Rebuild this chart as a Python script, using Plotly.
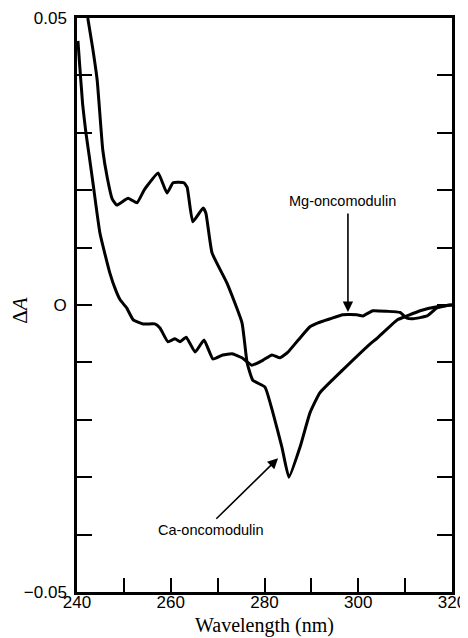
import plotly.graph_objects as go

# Mg-oncomodulin difference spectrum
mg_wl = [240.2, 240.6, 241.2, 241.9, 242.6, 243.4, 244.9, 247.0, 248.3, 249.2, 250.6, 252.0,
         254.1, 256.6, 257.7, 259.4, 260.9, 262.0, 263.3, 265.2, 267.1, 269.0, 271.1, 273.1,
         275.2, 277.3, 279.7, 281.6, 283.3, 285.0, 287.3, 289.7, 291.4, 294.0, 296.7, 299.7,
         301.0, 303.1, 306.1, 308.9, 310.4, 311.7, 314.7, 316.8, 319.6, 320.0]
mg_dA = [0.046, 0.0415, 0.035, 0.0300, 0.026, 0.0213, 0.0125, 0.0056, 0.0025, 0.0009, -0.0005, -0.0026,
         -0.0033, -0.0033, -0.0040, -0.0064, -0.0059, -0.0064, -0.0056, -0.0082, -0.0061, -0.0094, -0.0087, -0.0085,
         -0.0092, -0.0105, -0.0096, -0.0087, -0.0092, -0.0082, -0.0060, -0.0038, -0.0031, -0.0024, -0.0017, -0.0017,
         -0.0019, -0.0010, -0.0011, -0.0013, -0.0023, -0.0024, -0.0019, -0.0005, 0.0, 0.0]

# Ca-oncomodulin difference spectrum
ca_wl = [242.3, 243.3, 244.3, 245.5, 246.5, 247.5, 248.5, 250.9, 252.8, 254.3, 255.1, 257.3,
         259.2, 260.5, 262.8, 263.5, 264.7, 266.9, 267.5, 268.8, 272.0, 275.2, 276.3, 277.5,
         280.1, 281.8, 283.7, 285.2, 287.6, 289.7, 291.8, 296.7, 302.5, 304.0, 308.3, 310.4,
         313.2, 316.8, 320.0]
ca_dA = [0.050, 0.045, 0.0392, 0.0270, 0.022, 0.0185, 0.0174, 0.0186, 0.0178, 0.0200, 0.0209, 0.0230,
         0.0195, 0.0213, 0.0213, 0.0205, 0.0145, 0.0169, 0.0160, 0.0091, 0.0038, -0.0031, -0.0101, -0.0131,
         -0.0143, -0.0188, -0.0247, -0.0300, -0.0247, -0.0188, -0.0153, -0.0113, -0.0068, -0.0058, -0.0026, -0.0019,
         -0.0010, -0.0003, 0.0]

x_ticks = [240, 250, 260, 270, 280, 290, 300, 310, 320]
x_ticktext = ["240", "", "260", "", "280", "", "300", "", "320"]
y_ticks = [-0.05, -0.04, -0.03, -0.02, -0.01, 0.0, 0.01, 0.02, 0.03, 0.04, 0.05]
y_ticktext = ["\u22120.05", "", "", "", "", "O", "", "", "", "", "0.05"]

fig = go.Figure()
fig.add_trace(go.Scatter(x=mg_wl, y=mg_dA, mode="lines",
                         line=dict(color="black", width=3, shape="spline", smoothing=0.4),
                         showlegend=False))
fig.add_trace(go.Scatter(x=ca_wl, y=ca_dA, mode="lines",
                         line=dict(color="black", width=3, shape="spline", smoothing=0.4),
                         showlegend=False))

label_font = dict(family="Liberation Sans, Arial, sans-serif", size=14.5, color="black")

# labels and arrows
fig.add_annotation(x=297.8, y=-0.0012, ax=297.8, ay=0.0162, xref="x", yref="y",
                   axref="x", ayref="y", showarrow=True, arrowhead=2, arrowsize=1.3,
                   arrowwidth=1.6, arrowcolor="black", text="")
fig.add_annotation(x=296.7, y=0.0181, text="Mg-oncomodulin", showarrow=False,
                   font=label_font, xref="x", yref="y")
fig.add_annotation(x=282.9, y=-0.0267, ax=269.4, ay=-0.0375, xref="x", yref="y",
                   axref="x", ayref="y", showarrow=True, arrowhead=2, arrowsize=1.3,
                   arrowwidth=1.6, arrowcolor="black", text="")
fig.add_annotation(x=268.6, y=-0.0392, text="Ca-oncomodulin", showarrow=False,
                   font=label_font, xref="x", yref="y")

# axis titles
fig.add_annotation(x=0.5, y=-0.059, xref="paper", yref="paper", showarrow=False,
                   xanchor="center", yanchor="middle",
                   text="Wavelength (nm)",
                   font=dict(family="Liberation Serif, Times New Roman, serif", size=20, color="black"))
fig.add_annotation(x=-0.152, y=0.49, xref="paper", yref="paper", showarrow=False,
                   xanchor="center", yanchor="middle",
                   text="\u0394<i>A</i>", textangle=-90,
                   font=dict(family="Liberation Serif, Times New Roman, serif", size=21, color="black"))

tick_font = dict(family="Liberation Sans, Arial, sans-serif", size=17, color="black")

# the page body has an 8px default margin, so the figure is sized/margined to place
# the plot frame at the reference position inside the 468x638 window
fig.update_layout(
    width=460, height=636,
    margin=dict(l=69, r=16, t=10, b=52, autoexpand=False),
    paper_bgcolor="white", plot_bgcolor="white",
    xaxis=dict(range=[240, 320], tickmode="array", tickvals=x_ticks, ticktext=x_ticktext,
               ticks="inside", ticklen=14, tickwidth=2, tickcolor="black",
               showline=True, linecolor="black", linewidth=2.5, mirror=True,
               showgrid=False, zeroline=False, tickfont=tick_font, automargin=False,
               ticklabelstandoff=-7),
    yaxis=dict(range=[-0.05, 0.05], tickmode="array", tickvals=y_ticks, ticktext=y_ticktext,
               ticks="inside", ticklen=15, tickwidth=2, tickcolor="black",
               showline=True, linecolor="black", linewidth=2.5, mirror="allticks",
               showgrid=False, zeroline=False, tickfont=tick_font, automargin=False,
               ticklabelstandoff=4),
)

fig.write_html("out.html")
